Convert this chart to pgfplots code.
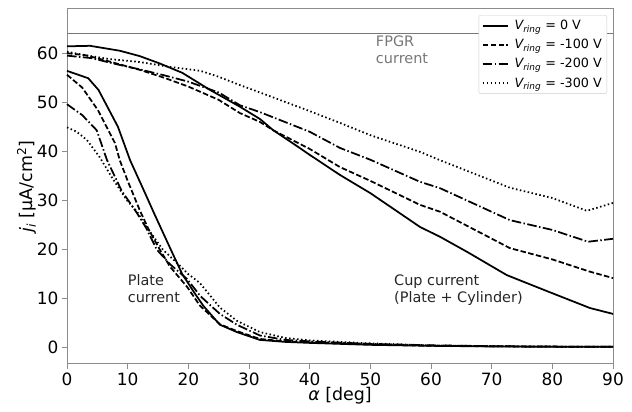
\documentclass[border=0pt]{standalone}
\usepackage{fontspec}
\setmainfont{DejaVu Sans}
\usepackage{pgfplots}
\pgfplotsset{compat=1.18}
\definecolor{spine}{HTML}{8C8C8C}
\definecolor{fpgr}{HTML}{777777}
\pgfplotsset{lw/.style={line width=1.75bp}}
\begin{document}
\begin{tikzpicture}
\begin{axis}[
  name=ax,
  scale only axis,
  width=546bp, height=355bp,
  xmin=0, xmax=90, ymin=-3.3, ymax=69,
  xtick={0,10,20,30,40,50,60,70,80,90},
  ytick={0,10,20,30,40,50,60},
  tick align=outside,
  tick pos=left,
  major tick length=5bp,
  axis line style={spine, line width=1pt},
  every tick/.style={spine, line width=1pt},
  /pgf/number format/assume math mode=true,
  tick label style={font=\fontsize{17}{20}\selectfont, text=black},
  xlabel={{\itshape α} [deg]},
  ylabel={{\itshape j\textsubscript{i}} [µA/cm\textsuperscript{2}]},
  label style={font=\fontsize{17.5}{21}\selectfont},
  xlabel style={yshift=5bp},
  ylabel style={yshift=-6bp},
  legend style={at={(0.989,0.983)}, anchor=north east, draw=black!20, fill=white, rounded corners=2bp,
    font=\fontsize{12.8}{15}\selectfont, row sep=4.2bp, inner xsep=3bp, inner ysep=3bp,
    /tikz/every odd column/.append style={column sep=4bp}},
  legend cell align=left,
  legend image code/.code={\draw[#1, line width=1.75bp] (0bp,0bp) -- (25bp,0bp);},
  clip=false,
]
\addplot[fpgr, line width=1.5bp, forget plot] coordinates {(0,64) (90,64)};
% cup current
\addplot[black, lw] coordinates {
(0,61.4) (3.8,61.5) (8.7,60.5) (12,59.4) (15.3,57.9) (19,56) (23.6,52.5) (28.5,49.1) (31.8,46.6) (34,44.3) (38,41) (40,39.3) (45,35.2) (50,31.5) (58.2,24.6) (61.5,22.6) (66,19.5) (72.5,14.8) (79,11.6) (86.2,8.1) (90,6.9)};
\addlegendentry{{\itshape V\textsubscript{ring}} = 0 V}
\addplot[black, lw, dash pattern=on 5.5bp off 2.4bp] coordinates {
(0,60) (3,59.6) (7,58.3) (12,56.6) (16,55) (20,53.2) (25,50.5) (28.5,47.8) (31.8,46) (34,44.3) (40,40.5) (45,36.8) (50,34) (58.2,29.1) (61.5,27.7) (73,20.3) (80,18) (86.2,15.5) (90,14.2)};
\addlegendentry{{\itshape V\textsubscript{ring}} = -100 V}
\addplot[black, lw, dash pattern=on 9.6bp off 2.4bp on 1.5bp off 2.4bp] coordinates {
(0,59.5) (4,59) (8,57.8) (12,56.7) (16,55.5) (20,54.2) (25,52) (28.5,49.4) (31.8,48) (40,44) (45,40.7) (50,38.3) (58.2,33.8) (61.5,32.5) (73,26) (80,24) (85.9,21.6) (90,22.2)};
\addlegendentry{{\itshape V\textsubscript{ring}} = -200 V}
\addplot[black, lw, dash pattern=on 1.5bp off 2.5bp] coordinates {
(0,60.3) (3,59.6) (7,58.8) (12,58.2) (17,57.2) (22,56.4) (25,55.2) (28.5,53.5) (31.8,52) (40,48.2) (45,45.8) (50,43.3) (58.2,39.9) (61.5,38.2) (73,32.6) (80,30.5) (85.7,27.9) (90,29.5)};
\addlegendentry{{\itshape V\textsubscript{ring}} = -300 V}
% plate current
\addplot[black, lw, forget plot] coordinates {
(0,56.4) (3.5,54.9) (5.2,52.5) (8.4,45) (10.4,38.2) (12.5,32.5) (14.5,27) (17.3,19.5) (19,15) (21,11.2) (22.5,8.5) (25.2,4.7) (28,3.2) (31.8,1.6) (36,1.2) (40,1.0) (50,0.6) (60,0.4) (72,0.25) (86,0.2) (90,0.2)};
\addplot[black, lw, dash pattern=on 5.5bp off 2.4bp, forget plot] coordinates {
(0,55.6) (2.5,53) (5.1,48.4) (7.9,41.7) (8.7,38.2) (10,34) (12,28) (13.5,24) (15.3,20) (17,16.5) (19.8,12.4) (21.9,8.6) (25.2,4.8) (28,3.4) (31.8,1.8) (36,1.3) (40,1.1) (50,0.7) (60,0.4) (72,0.3) (86,0.2) (90,0.2)};
\addplot[black, lw, dash pattern=on 9.6bp off 2.4bp on 1.5bp off 2.4bp, forget plot] coordinates {
(0,49.6) (2.5,47.4) (4.9,44.3) (6.6,38.2) (9,32) (11.5,27.5) (13,24.5) (14.8,20) (17,17) (19.8,14) (22,10.5) (25.2,6.9) (28,4.7) (31.8,2.5) (36,1.6) (40,1.3) (50,0.8) (60,0.5) (72,0.3) (86,0.2) (90,0.2)};
\addplot[black, lw, dash pattern=on 1.5bp off 2.5bp, forget plot] coordinates {
(0,44.9) (1.6,44) (3.3,42.3) (5.4,38.8) (7.5,34.5) (9.9,30) (11.5,27.8) (13,24.8) (15.8,20) (18.1,17.3) (20,15) (21.9,13.2) (25.2,8.2) (28,5.5) (31.8,3.2) (36,2.0) (40,1.5) (50,0.9) (60,0.5) (72,0.3) (86,0.2) (90,0.2)};
% annotations
\node[anchor=north west, align=left, text=fpgr, font=\fontsize{14.5}{17}\selectfont, inner sep=0pt] at (axis cs:50.9,63.5) {FPGR\\current};
\node[anchor=north west, align=left, text=black!85, font=\fontsize{14.5}{17}\selectfont, inner sep=0pt] at (axis cs:10,14.9) {Plate\\current};
\node[anchor=north west, align=left, text=black!85, font=\fontsize{14.5}{17}\selectfont, inner sep=0pt] at (axis cs:53.9,14.9) {Cup current\\(Plate + Cylinder)};
\end{axis}
\pgfresetboundingbox
\useasboundingbox ([shift={(-67bp,-48bp)}]ax.south west) rectangle ([shift={(19bp,9bp)}]ax.north east);
\end{tikzpicture}
\end{document}
